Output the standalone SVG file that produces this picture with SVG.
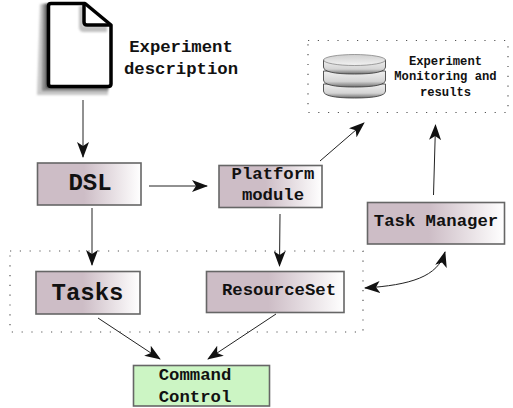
<svg xmlns="http://www.w3.org/2000/svg" width="513" height="408" viewBox="0 0 513 408">
<style>
text{font-family:"Liberation Mono","Courier New",monospace;font-weight:bold;fill:#111;text-anchor:middle}
.box{fill:url(#g);stroke:#666;stroke-width:1.6}
.c{fill:none;stroke:#222;stroke-width:1}
.dot{fill:none;stroke:#555;stroke-width:1.2;stroke-dasharray:1.2 8.6}
.t17{font-size:17.3px}
.t24{font-size:24px}
.t12{font-size:12.2px}
.disk{fill:url(#d);stroke:#444;stroke-width:.9}
.top{fill:url(#e);stroke:#666;stroke-width:.6}
</style>
<defs>
<linearGradient id="g" x1="0" x2="1" y1="0" y2="0"><stop offset="0" stop-color="#cdbdc6"/><stop offset=".45" stop-color="#cdbdc6"/><stop offset="1" stop-color="#fff"/></linearGradient>
<linearGradient id="d" x1="0" x2="0" y1="0" y2="1"><stop offset="0" stop-color="#f0f0f0"/><stop offset=".65" stop-color="#d4d4d4"/><stop offset="1" stop-color="#707070"/></linearGradient>
<linearGradient id="e" x1="0" x2="0" y1="0" y2="1"><stop offset="0" stop-color="#cfcfcf"/><stop offset="1" stop-color="#f2f2f2"/></linearGradient>
<marker id="a" viewBox="0 0 16 12" refX="15" refY="6" markerWidth="16" markerHeight="12" orient="auto" markerUnits="userSpaceOnUse"><path d="M0 0L16 6L0 12L4 6Z" fill="#111"/></marker>
<marker id="b" viewBox="0 0 16 12" refX="1" refY="6" markerWidth="16" markerHeight="12" orient="auto" markerUnits="userSpaceOnUse"><path d="M16 0L0 6L16 12L12 6Z" fill="#111"/></marker>
<filter id="s" x="-30%" y="-10%" width="150%" height="130%"><feGaussianBlur stdDeviation="0.8"/></filter>
</defs>
<g id="monitor-region"><rect class="dot" x="308" y="40.500" width="200" height="72"/></g>
<g id="resource-region"><rect class="dot" x="10" y="251" width="353" height="81"/></g>
<g id="document">
<path d="M40 4H86L108 26V95H37Z" fill="#c8c8c8" filter="url(#s)"/>
<path d="M43 4H86L108 26V91H42Z" fill="#8a8a8a" filter="url(#s)"/>
<path d="M46 4H86L108 26V88H46Z" fill="#444" filter="url(#s)"/>
<path d="M51 3.500H85L111 25V84Q111 86.500 108 86.500H51Q48.500 86.500 48.500 84V6Q48.500 3.500 51 3.500Z" fill="#fff" stroke="#000" stroke-width="3.500" stroke-linejoin="round"/>
<path d="M79 6H83V26H107V32H84Q79 32 79 27Z" fill="#999" opacity=".6" filter="url(#s)"/>
<path d="M84 5V22Q84 25 87 25H110" fill="none" stroke="#000" stroke-width="3.500"/>
<text class="t17" x="181" y="52">Experiment</text>
<text class="t17" x="181" y="74">description</text>
</g>
<g id="database">
<path class="disk" d="M323.500 84V91Q323.500 98 354.500 98T385.500 91V84Z"/>
<path class="disk" d="M323.500 71V80Q323.500 87 354.500 87T385.500 80V71Z"/>
<path class="disk" d="M323.500 60V67Q323.500 74 354.500 74T385.500 67V60Z"/>
<ellipse class="top" cx="354.500" cy="60" rx="31" ry="5.500"/>
<text class="t12" x="445.500" y="65">Experiment</text>
<text class="t12" x="445.500" y="80">Monitoring and</text>
<text class="t12" x="445.500" y="96">results</text>
</g>
<g id="dsl"><rect class="box" x="37.500" y="163" width="103.500" height="42"/><text class="t24" x="90" y="190">DSL</text></g>
<g id="platform"><rect class="box" x="219" y="165.500" width="103" height="42"/><text class="t17" x="273" y="178.500">Platform</text><text class="t17" x="273" y="200">module</text></g>
<g id="tasks"><rect class="box" x="36" y="271.500" width="104" height="42.500"/><text class="t24" x="87.500" y="300">Tasks</text></g>
<g id="resourceset"><rect class="box" x="206.500" y="271.500" width="137.500" height="41"/><text class="t17" x="279" y="295">ResourceSet</text></g>
<g id="taskmanager"><rect class="box" x="367.500" y="202.500" width="137" height="41.500"/><text class="t17" x="436" y="226">Task Manager</text></g>
<g id="command"><rect x="133.500" y="365.500" width="136" height="40.500" fill="#ccf5c4" stroke="#666" stroke-width="1.600"/><text class="t17" x="195" y="380">Command</text><text class="t17" x="195" y="402">Control</text></g>
<g id="connectors">
<path class="c" marker-end="url(#a)" d="M83 100V157"/>
<path class="c" marker-end="url(#a)" d="M149 186H207"/>
<path class="c" marker-end="url(#a)" d="M320 161L364 123"/>
<path class="c" marker-end="url(#a)" d="M433.500 195L435.500 125"/>
<path class="c" marker-end="url(#a)" d="M92 208V265"/>
<path class="c" marker-end="url(#a)" d="M280 214L279.500 266"/>
<path class="c" marker-end="url(#a)" d="M98 318L160 359"/>
<path class="c" marker-end="url(#a)" d="M276 314L208 359"/>
<path class="c" marker-start="url(#b)" marker-end="url(#a)" d="M365 288C410 285 438 277 445 252"/>
</g>
</svg>
